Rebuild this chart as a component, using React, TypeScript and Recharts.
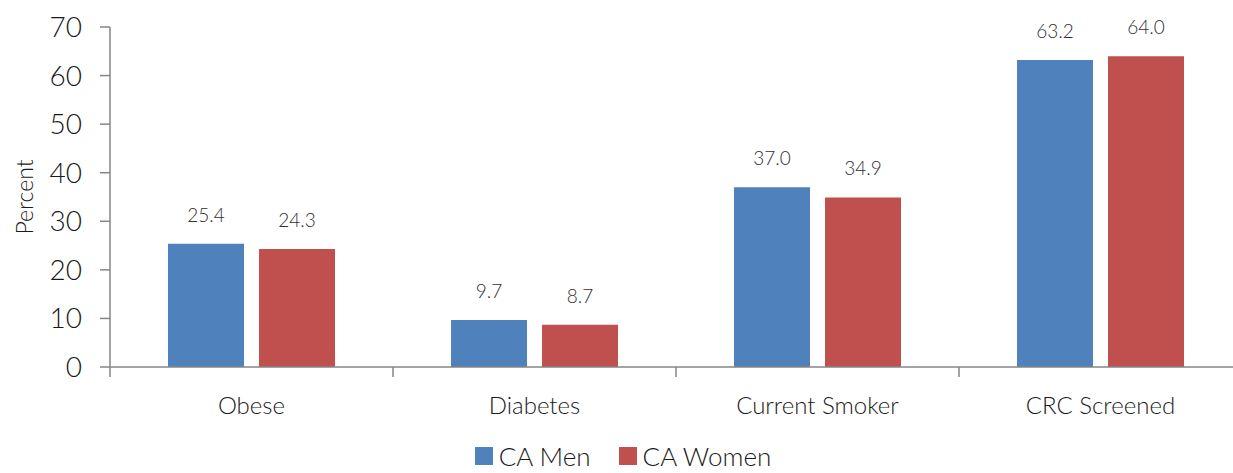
import React from 'react';
import { BarChart, Bar, XAxis, YAxis, Legend, LabelList } from 'recharts';

const categories = ['Obese', 'Diabetes', 'Current Smoker', 'CRC Screened'];
const caMen = [25.4, 9.7, 37.0, 63.2];
const caWomen = [24.3, 8.7, 34.9, 64.0];
const yTicks = [0, 10, 20, 30, 40, 50, 60, 70];

const BLUE = '#4F81BD';
const RED = '#C0504D';
const AXIS = '#868686';
const TEXT = '#1a1a1a';
const FONT = 'Lato, "Open Sans", sans-serif';

const data = categories.map((name, i) => ({ name, men: caMen[i], women: caWomen[i] }));

function CategoryTick(props: any) {
  const { x, y, payload, index, visibleTicksCount } = props;
  const half = payload?.offset ?? 141.5;
  const last = index === visibleTicksCount - 1;
  return (
    <g>
      <line x1={x - half} y1={y - 8} x2={x - half} y2={y + 2} stroke={AXIS} strokeWidth={1.5} />
      {last && <line x1={x + half} y1={y - 8} x2={x + half} y2={y + 2} stroke={AXIS} strokeWidth={1.5} />}
      <text x={x} y={y + 39} textAnchor="middle" fill={TEXT} fontSize={24} fontFamily={FONT} fontWeight={300}>
        {payload.value}
      </text>
    </g>
  );
}

function YLabel(props: any) {
  const { viewBox } = props;
  const cy = viewBox.y + viewBox.height / 2;
  return (
    <text x={24} y={cy} transform={`rotate(-90 24 ${cy})`} textAnchor="middle" dominantBaseline="central" fill={TEXT} fontSize={23} fontFamily={FONT} fontWeight={300}>
      Percent
    </text>
  );
}

function LegendContent() {
  const items = [
    { label: 'CA Men', color: BLUE },
    { label: 'CA Women', color: RED },
  ];
  return (
    <div style={{ display: 'flex', justifyContent: 'center', gap: 28, fontFamily: FONT, fontWeight: 300, fontSize: 26, lineHeight: '30px', color: TEXT, transform: 'translate(2px, 12px)' }}>
      {items.map((it) => (
        <div key={it.label} style={{ display: 'flex', alignItems: 'center', gap: 6 }}>
          <span style={{ display: 'inline-block', width: 18, height: 18, background: it.color }} />
          <span>{it.label}</span>
        </div>
      ))}
    </div>
  );
}

export default function App() {
  return (
    <div style={{ position: 'absolute', left: 0, top: 0, width: 1233, height: 473, overflow: 'hidden', background: '#fff' }}>
      <BarChart
        width={1250}
        height={473}
        data={data}
        margin={{ top: 27, right: 8, left: 0, bottom: 0 }}
        barCategoryGap="20.5%"
        barGap={15}
      >
        <YAxis
          domain={[0, 70]}
          ticks={yTicks}
          width={110}
          tickSize={10}
          tickMargin={18}
          stroke={AXIS}
          strokeWidth={1.5}
          tick={{ fill: TEXT, fontSize: 28, fontFamily: FONT, fontWeight: 300 }}
          label={<YLabel />}
        />
        <XAxis
          dataKey="name"
          height={62}
          stroke={AXIS}
          strokeWidth={1.5}
          tickLine={false}
          tick={<CategoryTick />}
          interval={0}
        />
        <Legend verticalAlign="bottom" height={44} content={<LegendContent />} />
        <Bar dataKey="men" name="CA Men" fill={BLUE} isAnimationActive={false}>
          <LabelList dataKey="men" position="top" offset={22} formatter={(v: number) => v.toFixed(1)} fill="#303030" fontSize={19} fontFamily={FONT} fontWeight={300} />
        </Bar>
        <Bar dataKey="women" name="CA Women" fill={RED} isAnimationActive={false}>
          <LabelList dataKey="women" position="top" offset={22} formatter={(v: number) => v.toFixed(1)} fill="#303030" fontSize={19} fontFamily={FONT} fontWeight={300} />
        </Bar>
      </BarChart>
    </div>
  );
}
